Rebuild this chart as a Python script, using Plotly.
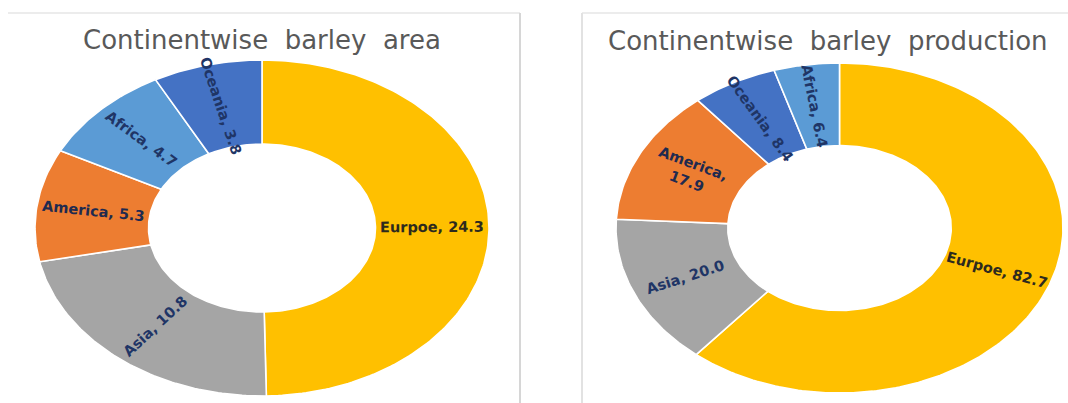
import numpy as np
import plotly.graph_objects as go

# ---------------- data ----------------
area_continents = ["Eurpoe", "Asia", "America", "Africa", "Oceania"]
area_values = [24.3, 10.8, 5.3, 4.7, 3.8]

prod_continents = ["Eurpoe", "Asia", "America", "Oceania", "Africa"]
prod_values = [82.7, 20.0, 17.9, 8.4, 6.4]

titles = ["Continentwise&nbsp; barley&nbsp; area",
          "Continentwise&nbsp; barley&nbsp; production"]
wrapped_labels = [[], ["America"]]  # labels that break onto two lines

# ---------------- styles ----------------
colors = {"Eurpoe": "#FFC000", "Asia": "#A5A5A5", "America": "#ED7D31",
          "Africa": "#5B9BD5", "Oceania": "#4472C4"}
text_colors = {"Eurpoe": "#2d2a1e", "Asia": "#1f3566", "America": "#1f2a4f",
               "Africa": "#1f3566", "Oceania": "#1f3566"}

W, H = 1068, 403
charts = [
    dict(cx=262, cy=228, a=227, b=168, hole=0.5,
         tx=262, ty=40, tanchor="center"),
    dict(cx=839.5, cy=228, a=223.5, b=165, hole=0.5,
         tx=606, ty=41, tanchor="left"),
]
datasets = [(area_continents, area_values), (prod_continents, prod_values)]

fig = go.Figure()
annotations = []

for ci, (chart, (names, vals)) in enumerate(zip(charts, datasets)):
    vals = np.array(vals, dtype=float)
    total = vals.sum()
    edges = np.concatenate([[0], np.cumsum(vals)]) / total * 2 * np.pi
    cx, cy, a, b, h = chart["cx"], chart["cy"], chart["a"], chart["b"], chart["hole"]
    for i, name in enumerate(names):
        t0, t1 = edges[i], edges[i + 1]
        n = max(int((t1 - t0) / (2 * np.pi) * 360), 8)
        t = np.linspace(t0, t1, n)
        xo = cx + a * np.sin(t)
        yo = cy - b * np.cos(t)
        xi = cx + a * h * np.sin(t[::-1])
        yi = cy - b * h * np.cos(t[::-1])
        xs = np.concatenate([xo, xi, xo[:1]])
        ys = np.concatenate([yo, yi, yo[:1]])
        fig.add_trace(go.Scatter(
            x=xs, y=ys, mode="lines", fill="toself",
            fillcolor=colors[name], line=dict(color="white", width=1.6),
            hoverinfo="text", text=f"{name}: {vals[i]:.1f}",
            showlegend=False))
        # radial label
        tm = (t0 + t1) / 2
        r = 0.75
        lx = cx + a * r * np.sin(tm)
        ly = cy - b * r * np.cos(tm)
        s = np.sin(tm)
        dx = a * abs(s)
        dy = -np.sign(s) * b * np.cos(tm) if abs(s) > 1e-9 else 0
        ang = np.degrees(np.arctan2(dy, dx))
        sep = ",<br>" if name in wrapped_labels[ci] else ", "
        annotations.append(dict(
            x=lx, y=ly, xref="x", yref="y", text=f"<b>{name}{sep}{vals[i]:.1f}</b>",
            showarrow=False, textangle=float(ang),
            font=dict(family="DejaVu Sans", size=14.5, color=text_colors[name]),
            xanchor="center", yanchor="middle"))
    annotations.append(dict(
        x=chart["tx"], y=chart["ty"], xref="x", yref="y", text=titles[ci],
        showarrow=False, xanchor=chart["tanchor"], yanchor="middle",
        font=dict(family="DejaVu Sans", size=26, color="#595959")))

# chart frames
shapes = [
    dict(type="line", xref="x", yref="y", x0=8, x1=520, y0=13, y1=13,
         line=dict(color="#e6e6e6", width=1.5)),
    dict(type="line", xref="x", yref="y", x0=520, x1=520, y0=13, y1=403,
         line=dict(color="#d6d6d6", width=2)),
    dict(type="line", xref="x", yref="y", x0=582, x1=1068, y0=13, y1=13,
         line=dict(color="#e6e6e6", width=1.5)),
    dict(type="line", xref="x", yref="y", x0=582, x1=582, y0=13, y1=403,
         line=dict(color="#e2e2e2", width=2)),
]

fig.update_layout(
    width=W, height=H, margin=dict(l=0, r=0, t=0, b=0),
    paper_bgcolor="white", plot_bgcolor="white",
    xaxis=dict(range=[0, W], visible=False, fixedrange=True),
    yaxis=dict(range=[H, 0], visible=False, fixedrange=True),
    annotations=annotations, shapes=shapes, showlegend=False,
)

fig.write_html("out.html")
